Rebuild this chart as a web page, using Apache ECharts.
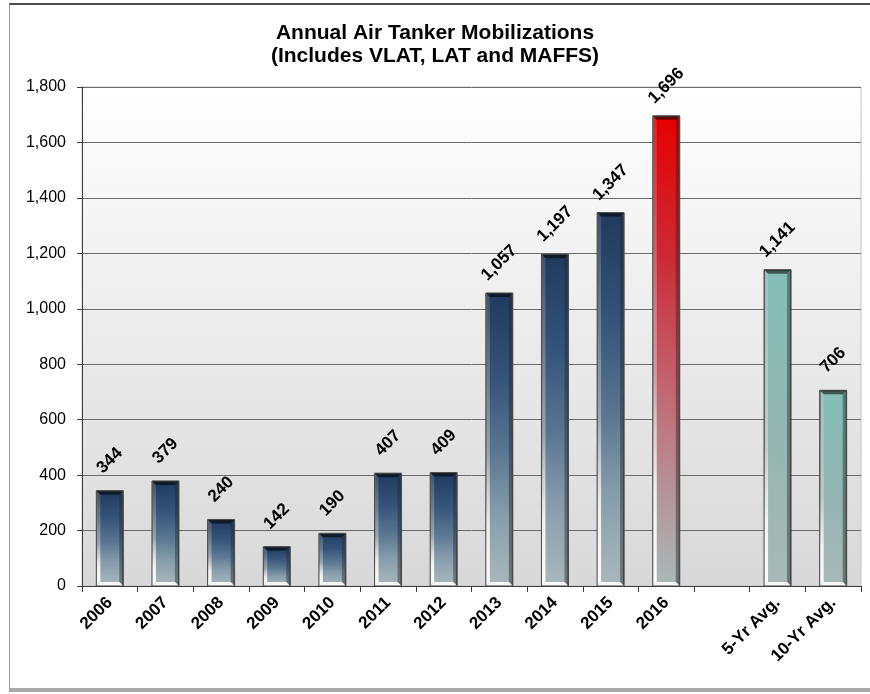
<!DOCTYPE html>
<html>
<head>
<meta charset="utf-8">
<title>Annual Air Tanker Mobilizations</title>
<script src="https://cdn.jsdelivr.net/npm/echarts@6/dist/echarts.min.js"></script>
<style>
  html, body { margin: 0; padding: 0; background: #ffffff; }
  #wrap { position: relative; width: 870px; height: 694px; overflow: hidden; }
  #frame {
    position: absolute; left: 9px; top: 3px; width: 870px; height: 683px;
    border-left: 1px solid #9a9a9a; border-top: 2px solid #4a4a4a;
    border-bottom: 4px solid #a8a8a8; box-sizing: content-box;
  }
  #chart { position: absolute; left: 0; top: 0; width: 870px; height: 694px; }
</style>
</head>
<body>
<div id="wrap">
  <div id="frame"></div>
  <div id="chart"></div>
</div>
<script>
// Categories along the x axis (an empty slot separates the years from the averages)
const categories = ['2006', '2007', '2008', '2009', '2010', '2011', '2012',
  '2013', '2014', '2015', '2016', '', '5-Yr Avg.', '10-Yr Avg.'];

// Air tanker mobilizations per category
const mobilizations = [344, 379, 240, 142, 190, 407, 409,
  1057, 1197, 1347, 1696, null, 1141, 706];

// Value axis ticks
const yTicks = [0, 200, 400, 600, 800, 1000, 1200, 1400, 1600, 1800];

const CURRENT_YEAR = '2016';
const BAR_W = 27;
const fmt = v => Number(v).toLocaleString('en-US');

function grad(stops) {
  return new echarts.graphic.LinearGradient(0, 0, 0, 1,
    stops.map(s => ({ offset: s[0], color: s[1] })));
}

const blueFill = grad([[0, '#1f3a5e'], [0.3, '#36557a'], [0.55, '#5b7892'],
  [0.75, '#869cab'], [1, '#aab8bc']]);
const redFill = grad([[0, '#e60000'], [0.3, '#cc2a36'], [0.6, '#c26a75'],
  [0.82, '#b3989c'], [1, '#a9b9b9']]);
const tealFill = grad([[0, '#84bfb8'], [0.5, '#93b6b2'], [1, '#a7b8b8']]);

function fillFor(cat) {
  if (cat === CURRENT_YEAR) return redFill;
  if (cat.indexOf('Avg.') >= 0) return tealFill;
  return blueFill;
}

const barData = mobilizations.map((v, i) => ({
  value: v,
  itemStyle: { color: fillFor(categories[i]) }
}));

const bevelData = mobilizations.map((v, i) => [i, v]);

const chart = echarts.init(document.getElementById('chart'), null, { renderer: 'canvas' });

chart.setOption({
  backgroundColor: 'transparent',
  animation: false,
  title: {
    text: 'Annual Air Tanker Mobilizations\n(Includes VLAT, LAT and MAFFS)',
    left: 'center',
    top: 17,
    textStyle: {
      fontFamily: 'Liberation Sans, Arial, sans-serif',
      fontWeight: 'bold', fontSize: 21, lineHeight: 23, color: '#000'
    }
  },
  grid: {
    left: 82, right: 9, top: 87, bottom: 108,
    show: true,
    borderColor: '#c4c4c4', borderWidth: 1,
    backgroundColor: grad([[0, '#ffffff'], [1, '#d8d8d8']])
  },
  xAxis: {
    type: 'category',
    data: categories,
    boundaryGap: true,
    axisLine: { lineStyle: { color: '#3c3c3c', width: 1 } },
    axisTick: { show: true, length: 6, lineStyle: { color: '#3c3c3c' } },
    axisLabel: {
      rotate: 45, interval: 0, margin: 14,
      fontFamily: 'Liberation Sans, Arial, sans-serif',
      fontWeight: 'bold', fontSize: 17, color: '#000'
    }
  },
  yAxis: {
    type: 'value',
    min: yTicks[0], max: yTicks[yTicks.length - 1], interval: yTicks[1] - yTicks[0],
    axisLine: { show: true, lineStyle: { color: '#3c3c3c', width: 1 } },
    axisTick: { show: true, length: 5, lineStyle: { color: '#3c3c3c' } },
    axisLabel: {
      margin: 16, formatter: fmt,
      fontFamily: 'Liberation Sans, Arial, sans-serif',
      fontSize: 16, color: '#000'
    },
    splitLine: { show: true, lineStyle: { color: '#6a6a6a', width: 1 } }
  },
  series: [
    {
      type: 'bar',
      data: barData,
      barWidth: BAR_W,
      z: 2,
      itemStyle: { borderColor: '#4a4a4a', borderWidth: 1 },
      label: {
        show: true, position: 'top', distance: 30, rotate: 45,
        align: 'center', verticalAlign: 'middle',
        formatter: p => fmt(p.value),
        fontFamily: 'Liberation Sans, Arial, sans-serif',
        fontWeight: 'bold', fontSize: 17, color: '#000'
      }
    },
    {
      // bevelled edges drawn over each bar
      type: 'custom',
      data: bevelData,
      z: 3,
      silent: true,
      encode: { x: 0, y: 1 },
      renderItem: function (params, api) {
        const v = api.value(1);
        if (v == null || isNaN(v)) return;
        const top = api.coord([api.value(0), v]);
        const base = api.coord([api.value(0), 0]);
        const x0 = top[0] - BAR_W / 2, x1 = top[0] + BAR_W / 2;
        const y0 = top[1], y1 = base[1];
        const b = 4;
        return {
          type: 'group',
          children: [
            { type: 'polygon', shape: { points: [[x0, y0], [x1, y0], [x1 - b, y0 + b], [x0 + b, y0 + b]] },
              style: { fill: 'rgba(0,0,0,0.55)' } },
            { type: 'polygon', shape: { points: [[x0, y0], [x0 + b, y0 + b], [x0 + b, y1 - b], [x0, y1]] },
              style: { fill: new echarts.graphic.LinearGradient(0, 0, 0, 1, [
                { offset: 0, color: 'rgba(255,255,255,0.12)' },
                { offset: 0.55, color: 'rgba(255,255,255,0.35)' },
                { offset: 0.8, color: 'rgba(255,255,255,0.85)' },
                { offset: 1, color: 'rgba(255,255,255,0.95)' }]) } },
            { type: 'polygon', shape: { points: [[x1, y0], [x1, y1], [x1 - b, y1 - b], [x1 - b, y0 + b]] },
              style: { fill: 'rgba(40,40,40,0.45)' } },
            { type: 'polygon', shape: { points: [[x0, y1], [x0 + b, y1 - b], [x1 - b, y1 - b], [x1, y1]] },
              style: { fill: 'rgba(255,255,255,0.9)' } },
            { type: 'rect', shape: { x: x0, y: y0, width: BAR_W, height: y1 - y0 },
              style: { fill: 'none', stroke: '#4a4a4a', lineWidth: 1 } }
          ]
        };
      }
    }
  ]
});
</script>
</body>
</html>
